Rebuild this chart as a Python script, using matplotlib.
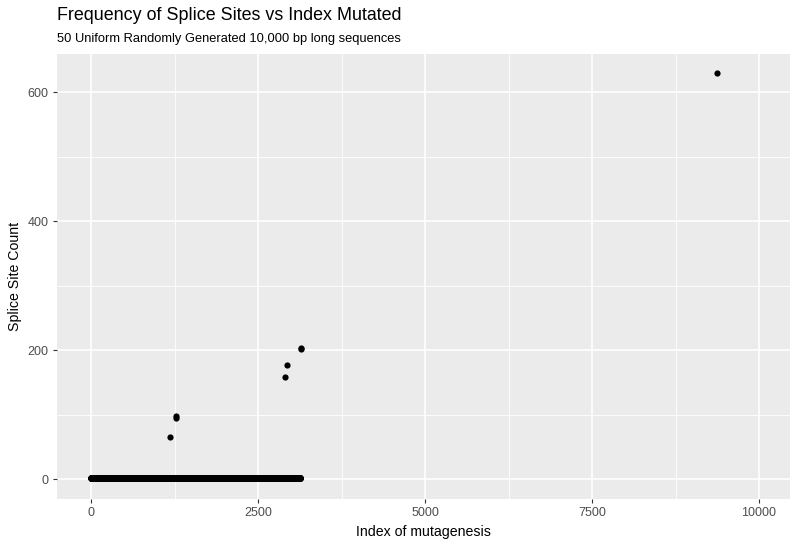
import numpy as np
import matplotlib
matplotlib.use("Agg")
import matplotlib.pyplot as plt
from matplotlib.ticker import FixedLocator

plt.rcParams['font.family'] = ['Liberation Sans', 'DejaVu Sans']

# Baseline: every index from 0 to about 3135 gives ~1 splice site
baseline_first = 0
baseline_last = 3135
baseline_count = 1

# Indices that gave many more splice sites
outlier_index = [1183, 1265, 1272, 2904, 2934, 3140, 3150, 9371]
outlier_count = [65, 95, 97, 158, 177, 201, 203, 629]

x_ticks = [0, 2500, 5000, 7500, 10000]
y_ticks = [0, 200, 400, 600]

base_x = np.arange(baseline_first, baseline_last + 1)
base_y = np.full(base_x.shape, baseline_count)

fig = plt.figure(figsize=(7.98, 5.44), dpi=100)
ax = fig.add_axes([57 / 798, 1 - 499 / 544, (790 - 57) / 798, (499 - 54) / 544])

ax.set_facecolor('#EBEBEB')
for s in ax.spines.values():
    s.set_visible(False)

ax.set_xlim(-509, 10464)
ax.set_ylim(-31, 659)

ax.xaxis.set_major_locator(FixedLocator(x_ticks))
ax.yaxis.set_major_locator(FixedLocator(y_ticks))
ax.xaxis.set_minor_locator(FixedLocator([1250, 3750, 6250, 8750]))
ax.yaxis.set_minor_locator(FixedLocator([100, 300, 500]))
ax.grid(which='major', color='white', linewidth=1.2)
ax.grid(which='minor', color='white', linewidth=0.6)
ax.set_axisbelow(True)

ax.tick_params(which='major', length=3, width=0.8, color='#333333',
               labelcolor='#4D4D4D', labelsize=9, pad=3)
ax.tick_params(which='minor', length=0)

ax.scatter(base_x, base_y, s=20, color='black', linewidths=0)
ax.scatter(outlier_index, outlier_count, s=20, color='black', linewidths=0)

ax.set_xlabel('Index of mutagenesis', fontsize=10.2, labelpad=4)
ax.set_ylabel('Splice Site Count', fontsize=10.2, labelpad=4)

fig.text(57 / 798, 1 - 16 / 544, 'Frequency of Splice Sites vs Index Mutated',
         fontsize=12.9, va='center', ha='left')
fig.text(57 / 798, 1 - 39 / 544, '50 Uniform Randomly Generated 10,000 bp long sequences',
         fontsize=9.3, va='center', ha='left')

fig.savefig('out.png', dpi=100)
